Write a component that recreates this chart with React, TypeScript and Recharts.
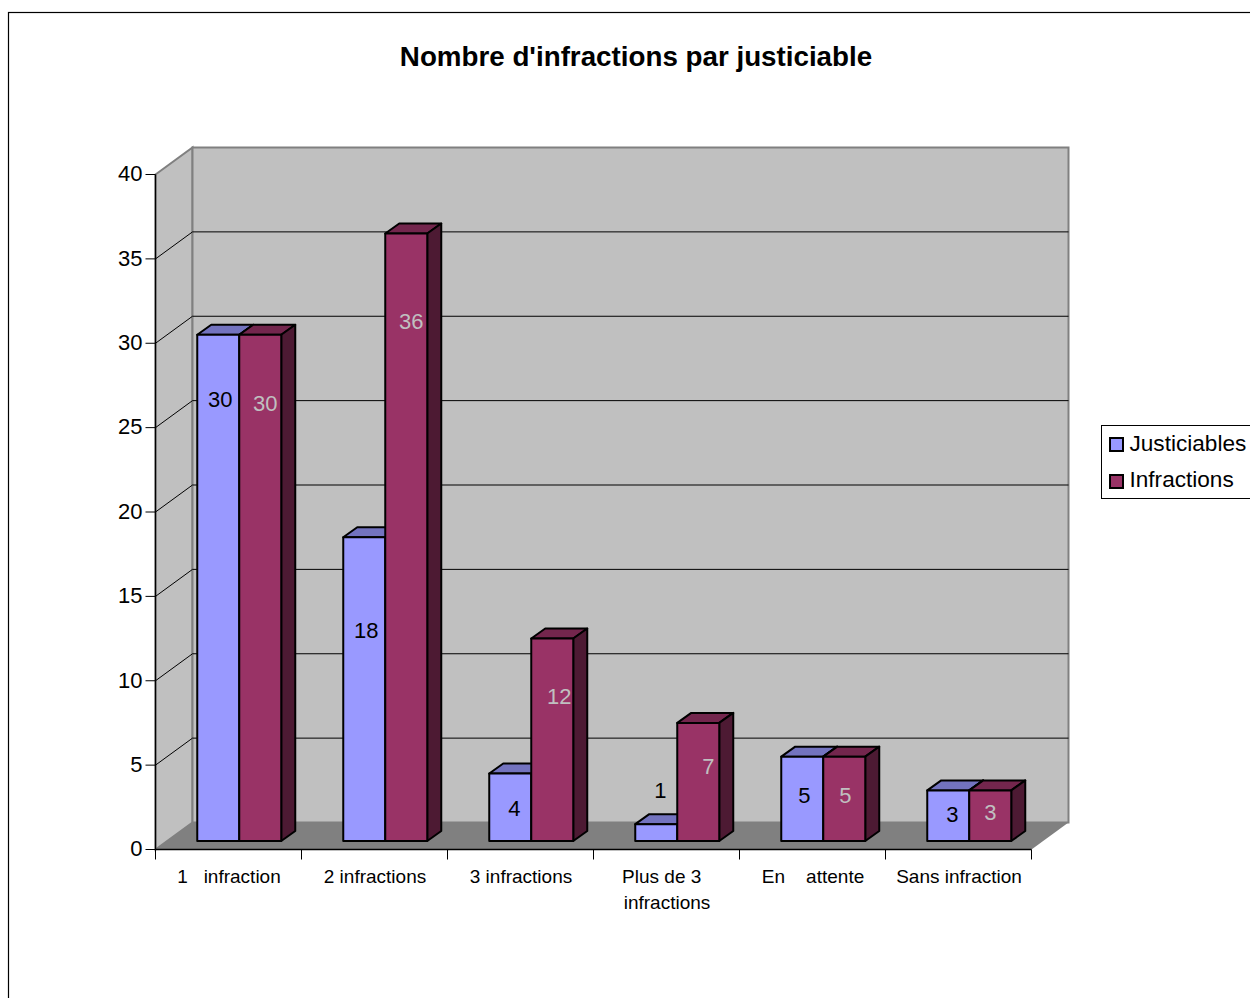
import { BarChart, Bar, XAxis, YAxis, CartesianGrid, Legend, LabelList, Customized } from "recharts";

const categories = ["1   infraction", "2 infractions", "3 infractions", "Plus de 3  \ninfractions", "En    attente", "Sans infraction"];
const justiciables = [30, 18, 4, 1, 5, 3];
const infractions = [30, 36, 12, 7, 5, 3];
const valueTicks = [0, 5, 10, 15, 20, 25, 30, 35, 40];

const chartData = categories.map((name, i) => ({
  name,
  justiciables: justiciables[i],
  infractions: infractions[i],
}));

const FONT = "'Liberation Sans', Arial, sans-serif";
const WIDTH = 1250;
const HEIGHT = 998;

// plot box of the front plane
const LEFT = 155.5;
const RIGHT = 1031.5;
const TOP = 174.5;
const BOTTOM = 849.5;
const BAND = (RIGHT - LEFT) / categories.length;

// how far the back wall sits behind the front plane
const WALL_DX = 37;
const WALL_DY = 27;

// bars stand a little inside the floor, and have their own small depth
const BAR_SHIFT_X = 10.75;
const BAR_SHIFT_Y = -8.5;
const BAR_DX = 14;
const BAR_DY = 10;

// label offsets from the centre/top of each bar's front face
const blueLabelOffsets = [[2, 65], [2, 93], [4, 35], [4, -34], [2, 39], [4, 24]];
const redLabelOffsets = [[5, 69], [5, 88], [7, 58], [10, 44], [1, 39], [0, 22]];

const faces: Record<string, { top: string; side: string }> = {
  "#9999FF": { top: "#7373BF", side: "#4D4D80" },
  "#993366": { top: "#73264D", side: "#4D1A33" },
};

const Bar3D = ({ x, y, width, height, fill }: any) => {
  const left = x + BAR_SHIFT_X;
  const top = y + BAR_SHIFT_Y;
  const right = left + width;
  const bottom = top + height;
  const outline = { stroke: "#000", strokeWidth: 2, strokeLinejoin: "round" as const };
  return (
    <g>
      <polygon
        points={`${left},${top} ${left + BAR_DX},${top - BAR_DY} ${right + BAR_DX},${top - BAR_DY} ${right},${top}`}
        fill={faces[fill].top}
        {...outline}
      />
      <polygon
        points={`${right},${top} ${right + BAR_DX},${top - BAR_DY} ${right + BAR_DX},${bottom - BAR_DY} ${right},${bottom}`}
        fill={faces[fill].side}
        {...outline}
      />
      <rect x={left} y={top} width={width} height={height} fill={fill} {...outline} />
    </g>
  );
};

const barLabel = (offsets: number[][], color: string) => (props: any) => {
  const { x, y, width, value, index } = props;
  const [dx, dy] = offsets[index];
  return (
    <text
      x={x + BAR_SHIFT_X + width / 2 + dx}
      y={y + BAR_SHIFT_Y + dy}
      fill={color}
      fontSize={22}
      fontFamily={FONT}
      textAnchor="middle"
      dominantBaseline="central"
    >
      {value}
    </text>
  );
};

// frame, title, walls and floor behind everything else
const Backdrop = () => (
  <g>
    <rect x={8.5} y={12.5} width={WIDTH} height={HEIGHT} fill="#fff" stroke="#000" strokeWidth={1.2} />
    <text x={636} y={66} textAnchor="middle" fontFamily={FONT} fontWeight="bold" fontSize={27.75} fill="#000">
      Nombre d'infractions par justiciable
    </text>
    <polygon
      points={`${LEFT},${TOP} ${LEFT + WALL_DX},${TOP - WALL_DY} ${LEFT + WALL_DX},${BOTTOM - WALL_DY} ${LEFT},${BOTTOM}`}
      fill="#C0C0C0"
      stroke="#808080"
      strokeWidth={2}
    />
    <rect
      x={LEFT + WALL_DX}
      y={TOP - WALL_DY}
      width={RIGHT - LEFT}
      height={BOTTOM - TOP}
      fill="#C0C0C0"
      stroke="#808080"
      strokeWidth={2}
    />
    <polygon
      points={`${LEFT},${BOTTOM} ${LEFT + WALL_DX},${BOTTOM - WALL_DY} ${RIGHT + WALL_DX},${BOTTOM - WALL_DY} ${RIGHT},${BOTTOM}`}
      fill="#808080"
    />
  </g>
);

// gridline runs along the side wall and then across the back wall
const WallLine = ({ x1, y1, x2, index }: any) => {
  if (index === 0 || index === valueTicks.length - 1) return <g key={index} />;
  return (
    <polyline
      key={index}
      points={`${x1},${y1} ${x1 + WALL_DX},${y1 - WALL_DY} ${x2 + WALL_DX},${y1 - WALL_DY}`}
      fill="none"
      stroke="#000"
      strokeWidth={1}
    />
  );
};

// ticks sit on the band edges, labels on the band centre
const CategoryTick = ({ x, payload, index }: any) => {
  const lines = String(payload.value).split("\n");
  return (
    <g>
      <line x1={x - BAND / 2} x2={x - BAND / 2} y1={BOTTOM} y2={BOTTOM + 10} stroke="#000" />
      {index === categories.length - 1 && (
        <line x1={x + BAND / 2} x2={x + BAND / 2} y1={BOTTOM} y2={BOTTOM + 10} stroke="#000" />
      )}
      {lines.map((line, i) => (
        <text
          key={i}
          x={x + 0.5}
          y={BOTTOM + 33 + i * 26}
          textAnchor="middle"
          fontFamily={FONT}
          fontSize={19}
          fill="#000"
          style={{ whiteSpace: "pre" }}
        >
          {line}
        </text>
      ))}
    </g>
  );
};

const legendItems = [
  { label: "Justiciables", color: "#9999FF" },
  { label: "Infractions", color: "#993366" },
];

const LegendBox = () => (
  <div
    style={{
      boxSizing: "border-box",
      width: 170,
      height: 74,
      border: "1px solid #000",
      background: "#fff",
      paddingLeft: 7.5,
      paddingTop: 0,
      fontFamily: FONT,
      fontSize: 22.6,
    }}
  >
    {legendItems.map((item) => (
      <div key={item.label} style={{ display: "flex", alignItems: "center", height: 36.5, whiteSpace: "nowrap" }}>
        <span
          style={{
            display: "inline-block",
            boxSizing: "border-box",
            width: 15,
            height: 15,
            marginRight: 5.5,
            marginTop: 2,
            background: item.color,
            border: "2px solid #000",
          }}
        />
        {item.label}
      </div>
    ))}
  </div>
);

export default function App() {
  return (
    <div style={{ position: "absolute", left: 0, top: 0, width: WIDTH, height: HEIGHT, overflow: "hidden", background: "#fff" }}>
      <BarChart
        width={WIDTH}
        height={HEIGHT}
        data={chartData}
        barSize={42}
        barGap={0}
        margin={{ top: TOP, right: WIDTH - RIGHT, bottom: 0, left: 0 }}
      >
        <Customized component={Backdrop} />
        <CartesianGrid horizontal={WallLine as any} vertical={false} zIndex={1} />
        <XAxis
          dataKey="name"
          interval={0}
          height={HEIGHT - BOTTOM}
          tick={CategoryTick as any}
          tickLine={false}
          axisLine={{ stroke: "#000", strokeWidth: 1.4 }}
        />
        <YAxis
          width={LEFT}
          domain={[0, 40]}
          ticks={valueTicks}
          interval={0}
          tickSize={10}
          tickMargin={3}
          tick={{ fill: "#000", fontSize: 22, fontFamily: FONT, dy: -1 }}
          tickLine={{ stroke: "#000" }}
          axisLine={{ stroke: "#000", strokeWidth: 1.4 }}
        />
        <Legend
          layout="vertical"
          align="center"
          verticalAlign="middle"
          content={LegendBox as any}
          wrapperStyle={{ left: 1100.5, top: 424.5, width: 170, margin: 0 }}
        />
        <Bar dataKey="justiciables" name="Justiciables" fill="#9999FF" shape={Bar3D} isAnimationActive={false}>
          <LabelList dataKey="justiciables" content={barLabel(blueLabelOffsets, "#000") as any} />
        </Bar>
        <Bar dataKey="infractions" name="Infractions" fill="#993366" shape={Bar3D} isAnimationActive={false}>
          <LabelList dataKey="infractions" content={barLabel(redLabelOffsets, "#C0C0C0") as any} />
        </Bar>
      </BarChart>
    </div>
  );
}
